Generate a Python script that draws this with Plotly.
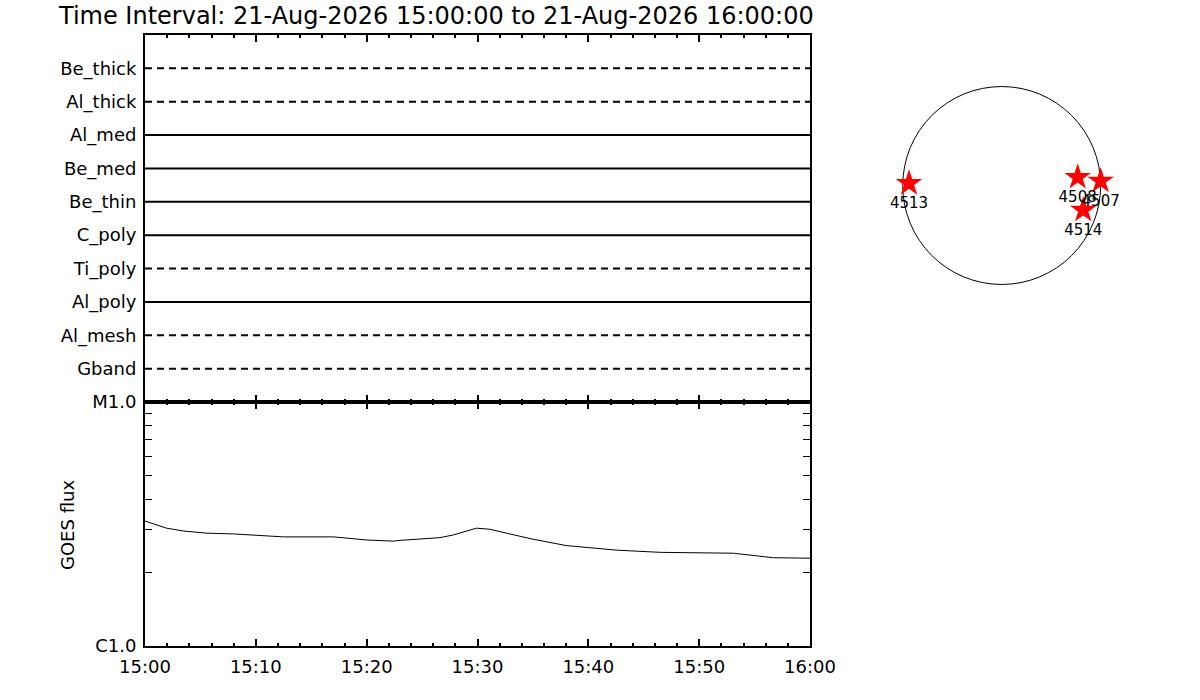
import plotly.graph_objects as go

# Filter timeline (top panel), bottom to top
filters = ["Gband", "Al_mesh", "Al_poly", "Ti_poly", "C_poly",
           "Be_thin", "Be_med", "Al_med", "Al_thick", "Be_thick"]
filter_observed = [False, False, True, False, True,
                   True, True, True, False, False]
t_start = "2026-08-21 15:00:00"
t_end = "2026-08-21 16:00:00"

# GOES flux curve (minutes after 15:00, W/m^2)
goes_minutes = [0, 1.95, 3.46, 5.56, 7.97, 9.98, 12.5, 17.0, 20.0, 22.4, 23.0,
                26.6, 27.8, 29.9, 31.1, 32.9, 35.0, 38.0, 39.8, 42.6, 46.5,
                50.1, 53.1, 56.7, 60.0]
goes_flux = [3.25e-6, 3.04e-6, 2.96e-6, 2.90e-6, 2.88e-6, 2.84e-6, 2.80e-6,
             2.80e-6, 2.72e-6, 2.69e-6, 2.71e-6, 2.78e-6, 2.85e-6, 3.04e-6,
             3.01e-6, 2.88e-6, 2.74e-6, 2.58e-6, 2.53e-6, 2.47e-6, 2.42e-6,
             2.40e-6, 2.40e-6, 2.30e-6, 2.29e-6]
goes_ticks = [1e-6, 1e-5]
goes_ticktext = ["C1.0", "M1.0"]

# Active regions on the solar disk (arcsec)
ar_names = ["4513", "4508", "4507", "4514"]
ar_x = [-899, 737, 960, 791]
ar_y = [21, 80, 44, -238]
r_sun = 960

title = "Time Interval: 21-Aug-2026 15:00:00 to 21-Aug-2026 16:00:00"

FONT = "DejaVu Sans"
times = [f"2026-08-21 {15 + int(m // 60):02d}:{int(m % 60):02d}:{int(round((m % 1) * 60)) % 60:02d}"
         for m in goes_minutes]

fig = go.Figure()

for name, obs in zip(filters, filter_observed):
    fig.add_trace(go.Scatter(
        x=[t_start, t_end], y=[name, name], mode="lines",
        line=dict(color="black", width=2, dash="solid" if obs else "7px,5px"),
        xaxis="x2", yaxis="y2", showlegend=False, hoverinfo="skip",
    ))

fig.add_trace(go.Scatter(
    x=times, y=goes_flux, mode="lines", line=dict(color="black", width=1),
    xaxis="x", yaxis="y", showlegend=False,
))

fig.add_trace(go.Scatter(
    x=ar_x, y=ar_y, mode="markers+text", text=ar_names,
    textposition="bottom center", textfont=dict(family=FONT, size=15, color="black"),
    marker=dict(symbol="star", size=20, color="red", line=dict(width=0)),
    xaxis="x3", yaxis="y3", showlegend=False, cliponaxis=False,
))

fig.add_shape(type="circle", xref="x3", yref="y3", x0=-r_sun, x1=r_sun,
              y0=-r_sun, y1=r_sun, line=dict(color="black", width=1), layer="below")

xdom = [145 / 1200, 810 / 1200]
top_dom = [1 - 402 / 700, 1 - 35 / 700]
bot_dom = [1 - 646 / 700, 1 - 402 / 700]

time_axis = dict(
    type="date", range=[t_start, t_end], domain=xdom, automargin=False,
    showline=True, linecolor="black", linewidth=2, mirror="ticks",
    ticks="inside", ticklen=7, tickwidth=2, tickcolor="black",
    dtick=600000, tick0=t_start, showgrid=False, zeroline=False,
    minor=dict(dtick=120000, tick0=t_start, ticks="inside", ticklen=3,
               tickwidth=2, tickcolor="black", showgrid=False),
)

fig.update_layout(
    width=1200, height=700,
    margin=dict(l=0, r=0, t=0, b=0, autoexpand=False),
    plot_bgcolor="white", paper_bgcolor="white",
    font=dict(family=FONT, size=18, color="black"),
    xaxis=dict(time_axis, anchor="y", tickformat="%H:%M", ticklabelstandoff=3,
               tickfont=dict(family=FONT, size=18)),
    yaxis=dict(
        type="log", range=[-6, -5], domain=bot_dom, anchor="x", automargin=False,
        tickvals=goes_ticks, ticktext=goes_ticktext, ticklabelstandoff=3,
        showline=True, linecolor="black", linewidth=2, mirror="ticks",
        ticks="inside", ticklen=7, tickwidth=1, tickcolor="black",
        showgrid=False, zeroline=False, tickfont=dict(family=FONT, size=18),
        minor=dict(tickvals=[k * 1e-6 for k in range(2, 10)], ticks="inside",
                   ticklen=7, tickwidth=1, tickcolor="black", showgrid=False),
    ),
    xaxis2=dict(time_axis, anchor="y2", matches="x", showticklabels=False),
    yaxis2=dict(
        type="category", categoryorder="array", categoryarray=filters,
        range=[-1, len(filters)], domain=top_dom, anchor="x2", automargin=False,
        showline=True, linecolor="black", linewidth=2, mirror=True,
        ticks="", showgrid=False, zeroline=False, ticklabelstandoff=3,
        tickfont=dict(family=FONT, size=18),
    ),
    xaxis3=dict(range=[-1100, 1100], domain=[888.3 / 1200, 1115.1 / 1200],
                anchor="y3", visible=False, automargin=False),
    yaxis3=dict(range=[-1100, 1100], domain=[1 - 298.9 / 700, 1 - 72.1 / 700],
                anchor="x3", visible=False, automargin=False),
    annotations=[
        dict(text=title, xref="paper", yref="paper", x=56 / 1200, y=1 - 16 / 700,
             xanchor="left", yanchor="middle", showarrow=False,
             font=dict(family=FONT, size=24, color="black")),
        dict(text="GOES flux", xref="paper", yref="paper", x=67 / 1200,
             y=1 - 525 / 700, textangle=-90, xanchor="center", yanchor="middle",
             showarrow=False, font=dict(family=FONT, size=18, color="black")),
    ],
)

# page body margin would push the figure off by 8px
fig.write_html("out.html", config={"displayModeBar": False},
               post_script="document.body.style.margin='0px';")
